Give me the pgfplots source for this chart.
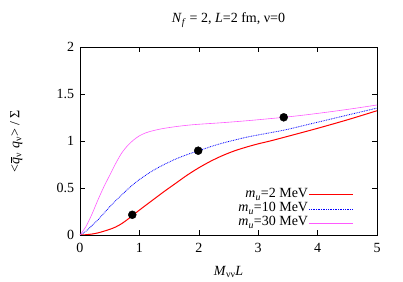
\documentclass[border=0pt]{standalone}
\usepackage{pgfplots}
\pgfplotsset{compat=1.18}
\usepackage{fontspec}
\setmainfont{Liberation Serif}
\definecolor{mymag}{rgb}{1,0.35,1}
\pgfplotsset{legend image code/.code={\draw[#1] (0bp,0bp) -- (44bp,0bp);}}
\newcommand{\qbar}{\textit{q}\llap{\raisebox{0.52em}{\rule{0.42em}{0.06em}}\kern0.02em}}
\begin{document}
\fontsize{14bp}{16bp}\selectfont
\begin{tikzpicture}
\path[use as bounding box] (-80bp,-47bp) rectangle (323bp,235bp);
\begin{axis}[
  at={(0,0)}, anchor=origin,
  scale only axis, width=297bp, height=188bp,
  xmin=0, xmax=5, ymin=0, ymax=2,
  xtick={0,1,2,3,4,5}, ytick={0,0.5,1,1.5,2},
  yticklabels={0,0.5,1,1.5,2},
  /pgf/number format/assume math mode=true,
  tick align=inside, major tick length=5bp,
  tick style={black, line width=0.5bp},
  axis line style={black, line width=0.8bp},
  ticklabel style={font=\fontsize{14bp}{16bp}\selectfont},
  xticklabel style={yshift=-3bp},
  yticklabel style={xshift=-1bp},
  title={\textit{N}\textsubscript{\textit{f}} = 2, \textit{L}=2 fm, ν=0},
  title style={at={(axis description cs:0.5,1.096)}, anchor=base, font=\fontsize{14bp}{16bp}\selectfont},
  xlabel={\textit{M}\textsubscript{νν}\textit{L}},
  xlabel style={at={(axis description cs:0.5,-0.213)}, anchor=base, font=\fontsize{14bp}{16bp}\selectfont},
  ylabel={<\qbar\textsubscript{ν} \textit{q}\textsubscript{ν}> / Σ},
  ylabel style={at={(axis description cs:-0.215,0.5)}, anchor=center, font=\fontsize{14bp}{16bp}\selectfont},
  legend plot pos=right,
  legend cell align=right,
  legend style={draw=none, fill=none, at={(axis cs:4.66,0.03)}, anchor=south east,
    font=\fontsize{14bp}{16bp}\selectfont, row sep=0bp,
    nodes={inner sep=0.5bp, text height=9.5bp, text depth=3.5bp}},
]
\addplot[red, line width=1bp, smooth, legend image post style={red}] coordinates {
(0,0) (0.1,0.003) (0.2,0.01) (0.3,0.022) (0.4,0.04) (0.5,0.06) (0.6,0.085)
(0.7,0.12) (0.8,0.165) (0.9,0.215) (1.0,0.265) (1.2,0.36) (1.4,0.455)
(1.6,0.545) (1.8,0.635) (2.0,0.715) (2.2,0.785) (2.4,0.845) (2.6,0.895)
(2.8,0.935) (3.0,0.97) (3.2,1.0) (3.5,1.05) (4.0,1.135) (4.5,1.225) (5.0,1.322)};
\addlegendentry{\textit{m}\textsubscript{\textit{u}}=2 MeV}
\addplot[blue, line width=0.8bp, dash pattern=on 0.8bp off 0.9bp, smooth, legend image post style={blue}] coordinates {
(0,0) (0.1,0.04) (0.2,0.10) (0.3,0.16) (0.4,0.23) (0.5,0.30) (0.6,0.365)
(0.7,0.425) (0.8,0.485) (0.9,0.54) (1.0,0.59) (1.2,0.675) (1.4,0.745)
(1.6,0.805) (1.8,0.855) (2.0,0.897) (2.2,0.94) (2.4,0.978) (2.6,1.01)
(2.8,1.04) (3.0,1.065) (3.2,1.088) (3.5,1.125) (4.0,1.20) (4.5,1.275) (5.0,1.35)};
\addlegendentry{\textit{m}\textsubscript{\textit{u}}=10 MeV}
\addplot[mymag, line width=0.6bp, smooth, legend image post style={mymag}] coordinates {
(0,0) (0.1,0.09) (0.2,0.22) (0.3,0.37) (0.4,0.51) (0.5,0.635) (0.6,0.76)
(0.7,0.87) (0.8,0.95) (0.9,1.01) (1.0,1.055) (1.1,1.085) (1.2,1.105)
(1.3,1.12) (1.4,1.133) (1.6,1.152) (1.8,1.167) (2.0,1.178) (2.4,1.195)
(2.8,1.215) (3.2,1.238) (3.43,1.252) (3.8,1.278) (4.2,1.31) (4.6,1.345) (5.0,1.383)};
\addlegendentry{\textit{m}\textsubscript{\textit{u}}=30 MeV}
\addplot[only marks, mark=*, mark size=4bp, black, forget plot] coordinates {
(0.88,0.215) (1.99,0.897) (3.43,1.252)};
\end{axis}
\end{tikzpicture}
\end{document}
